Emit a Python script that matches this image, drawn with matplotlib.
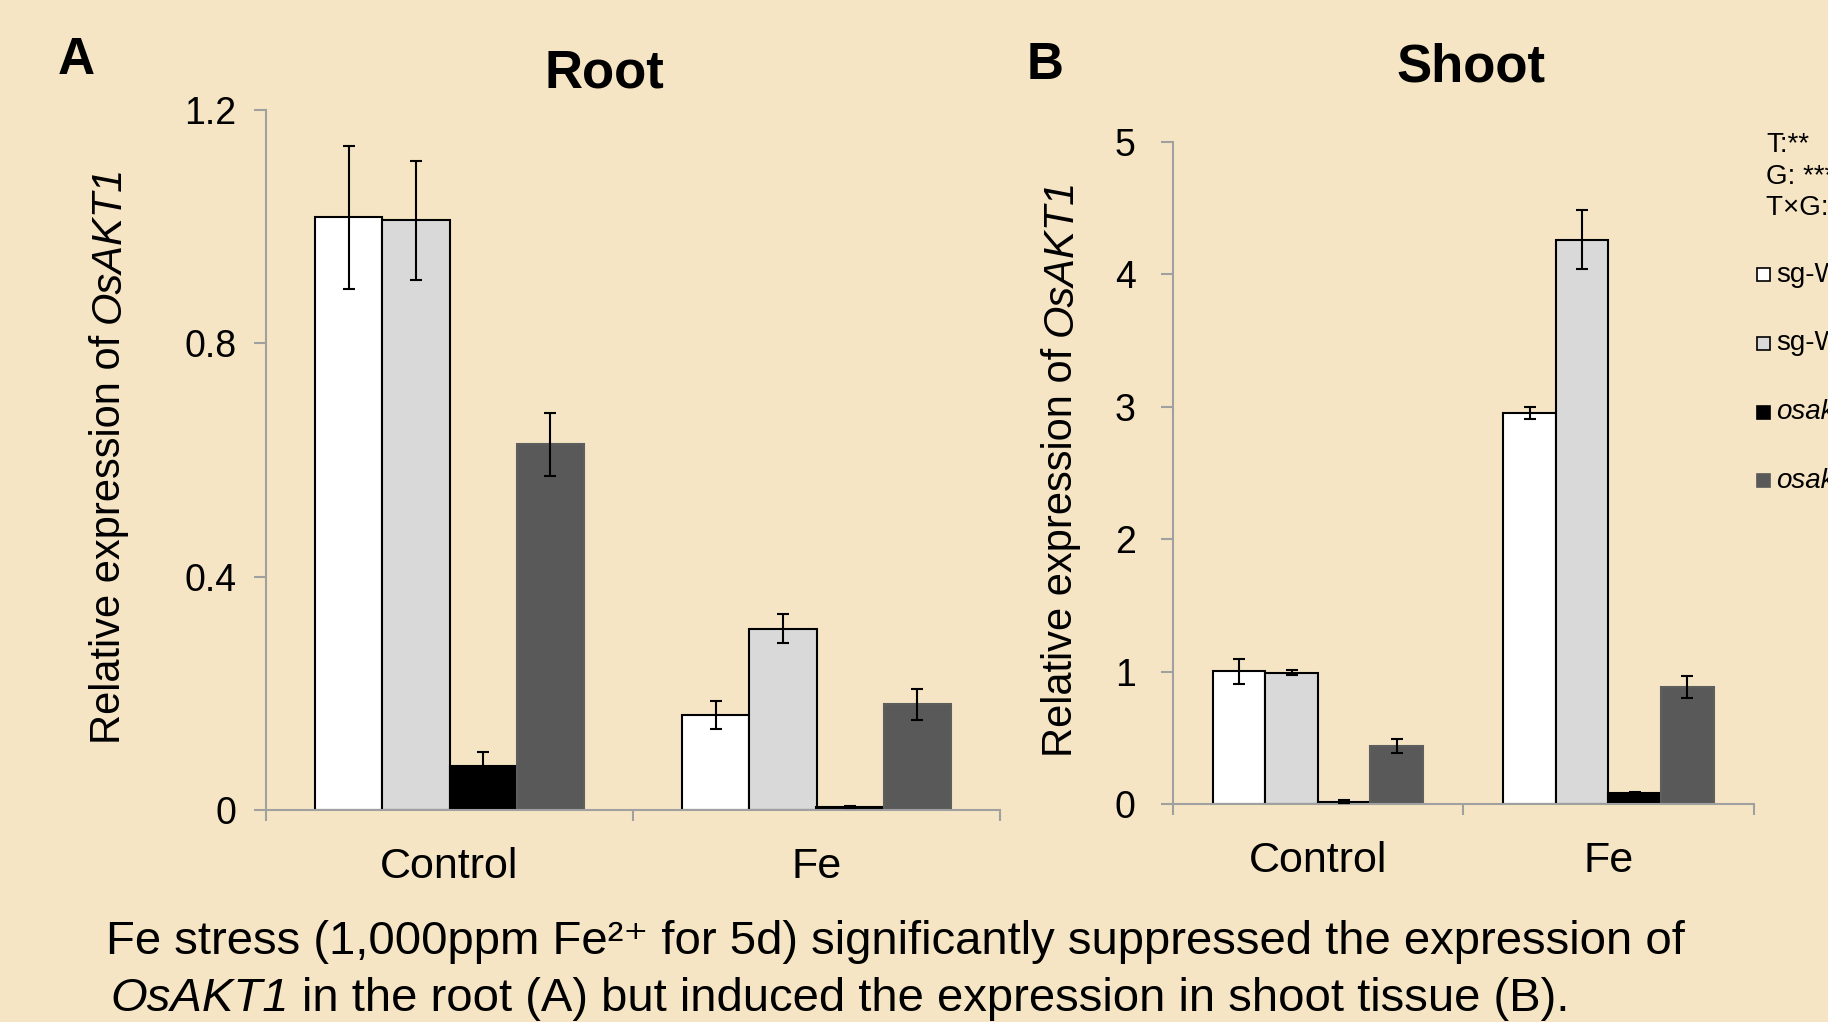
import numpy as np
import matplotlib
matplotlib.use("Agg")
import matplotlib.pyplot as plt
from matplotlib.patches import Rectangle

# --- data ---
groups = ['Control', 'Fe']
genotypes = ['sg-WT-1', 'sg-WT-2', 'osakt1-1', 'osakt1-2']

# rows = genotype, cols = treatment
root_means = [[1.016, 0.163], [1.011, 0.311], [0.075, 0.005], [0.627, 0.181]]
root_errs = [[0.123, 0.024], [0.102, 0.025], [0.025, 0.002], [0.054, 0.026]]
shoot_means = [[1.004, 2.952], [0.995, 4.262], [0.019, 0.085], [0.441, 0.888]]
shoot_errs = [[0.093, 0.044], [0.018, 0.222], [0.012, 0.010], [0.053, 0.083]]

root_ticks = [0, 0.4, 0.8, 1.2]
root_ticklabels = ['0', '0.4', '0.8', '1.2']
shoot_ticks = [0, 1, 2, 3, 4, 5]
stats_lines = ['T:**', 'G: ***', 'T×G: **']
gene = 'OsAKT1'
ylab_plain = 'Relative expression of'
caption_1 = 'Fe stress (1,000ppm Fe²⁺ for 5d) significantly suppressed the expression of'
caption_2 = 'in the root (A) but induced the expression in shoot tissue (B).'

BG = '#F5E5C4'
fills = ['white', '#D9D9D9', 'black', '#595959']
edges = ['black', 'black', 'black', '#5E5E5E']
AXC = '#A0A0A0'

plt.rcParams['font.family'] = ['Liberation Sans', 'DejaVu Sans']

W, H = 1828, 1022
fig = plt.figure(figsize=(W / 100, H / 100), dpi=100, facecolor=BG)
renderer = fig.canvas.get_renderer()


def fx(px):
    return px / W


def fy(py):
    return 1 - py / H


def text_width(s, size, style='normal'):
    t = fig.text(0, 0, s, fontsize=size, style=style)
    w = t.get_window_extent(renderer).width
    t.remove()
    return w


def draw_panel(ax, means, errs, width, ymax, ypad, xpad):
    x = np.arange(len(groups)) + 0.5
    for i in range(len(genotypes)):
        off = (i - 1.5) * width
        ax.bar(x + off, means[i], width, color=fills[i], edgecolor=edges[i],
               linewidth=1.5, zorder=2)
        ax.errorbar(x + off, means[i], yerr=errs[i], fmt='none', ecolor='black',
                    elinewidth=1.5, capsize=4.5, capthick=1.5, zorder=3)
    ax.set_facecolor('none')
    ax.set_xlim(0, 2)
    ax.set_ylim(0, ymax)
    for s in ['top', 'right']:
        ax.spines[s].set_visible(False)
    for s in ['left', 'bottom']:
        ax.spines[s].set_color(AXC)
        ax.spines[s].set_linewidth(1.5)
    ax.set_xticks([0, 1, 2])
    ax.set_xticklabels([])
    ax.set_xticks(x, minor=True)
    ax.set_xticklabels(groups, minor=True, fontsize=31)
    ax.tick_params(axis='x', which='major', direction='out', length=8, width=1.5, color=AXC)
    ax.tick_params(axis='x', which='minor', length=0, pad=xpad)
    ax.tick_params(axis='y', direction='out', length=8.5, width=1.5, color=AXC,
                   labelsize=27, pad=ypad)


def vertical_label(xc, yc, size=30):
    # plain part + italic gene name, reading bottom to top
    w1 = text_width(ylab_plain, size)
    w2 = text_width(gene, size, 'italic')
    sp = 0.278 * size * 100 / 72
    total = w1 + sp + w2
    bottom = yc + total / 2  # pixel row from top
    fig.text(fx(xc), fy(bottom - w1 / 2), ylab_plain, rotation=90,
             ha='center', va='center', fontsize=size)
    fig.text(fx(xc), fy(bottom - w1 - sp - w2 / 2), gene, rotation=90,
             ha='center', va='center', fontsize=size, style='italic')


# Root panel
ax1 = fig.add_axes([fx(266), fy(810), fx(1000 - 266), (810 - 110) / H])
draw_panel(ax1, root_means, root_errs, 0.1826, 1.2, 13, 26.5)
ax1.set_yticks(root_ticks)
ax1.set_yticklabels(root_ticklabels)

# Shoot panel
ax2 = fig.add_axes([fx(1172.5), fy(804.4), fx(1753.8 - 1172.5), (804.4 - 141.9) / H])
draw_panel(ax2, shoot_means, shoot_errs, 0.181, 5, 18, 26)
ax2.set_yticks(shoot_ticks)

vertical_label(109, 455)
vertical_label(1061, 468)

# panel letters and titles
fig.text(fx(76), fy(74), 'A', ha='center', va='baseline', fontsize=37, fontweight='bold')
fig.text(fx(604), fy(88), 'Root', ha='center', va='baseline', fontsize=38, fontweight='bold')
fig.text(fx(1045), fy(79), 'B', ha='center', va='baseline', fontsize=37, fontweight='bold')
fig.text(fx(1471), fy(82), 'Shoot', ha='center', va='baseline', fontsize=38, fontweight='bold')

# stats and legend (runs off the right edge, as in the original slide)
for k, line in enumerate(stats_lines):
    fig.text(fx(1766), fy(145 + k * 31.5), line, ha='left', va='center', fontsize=20)

leg_y = [275, 343, 412, 481]
for lab, y, fc, ec in zip(genotypes, leg_y, fills, edges):
    fig.add_artist(Rectangle((fx(1757), fy(y + 6.5)), fx(13), 13 / H,
                             transform=fig.transFigure, facecolor=fc,
                             edgecolor='black' if fc in ('white', '#D9D9D9') else fc,
                             linewidth=1.2))
    style = 'italic' if lab.startswith('osakt') else 'normal'
    fig.text(fx(1776), fy(y), lab, ha='left', va='center', fontsize=20, style=style)

# caption
cap_size = 34
fig.text(fx(106), fy(954), caption_1, ha='left', va='baseline', fontsize=cap_size)
wg = text_width(gene, cap_size, 'italic')
sp = 0.278 * cap_size * 100 / 72
fig.text(fx(110), fy(1010.5), gene, ha='left', va='baseline', fontsize=cap_size, style='italic')
fig.text(fx(110 + wg + sp), fy(1010.5), caption_2, ha='left', va='baseline', fontsize=cap_size)

fig.savefig('out.png', dpi=100, facecolor=BG)
